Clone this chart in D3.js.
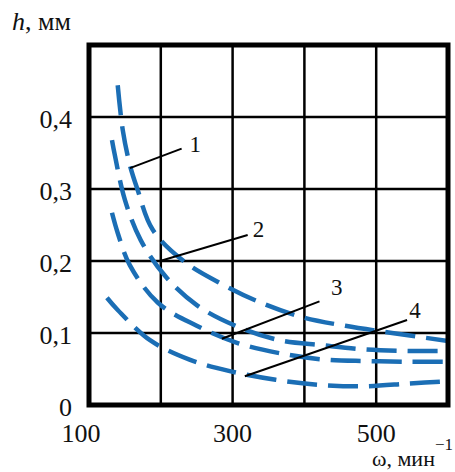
<!DOCTYPE html>
<html>
<head>
<meta charset="utf-8">
<script src="https://d3js.org/d3.v7.min.js"></script>
<style>
body{margin:0;background:#fff;}
svg text{font-family:'Liberation Serif','Times New Roman',Tinos,'DejaVu Serif',serif;fill:#111;}
</style>
</head>
<body>
<script>
width = 455;
height = 472;

// частота вращения, мин^-1
var curve1 = [[140,0.444],[147,0.382],[157,0.333],[167,0.301],[189,0.243],[233,0.199],[285,0.168],[335,0.144],[397,0.122],[457,0.110],[522,0.100],[600,0.089]];
var curve2 = [[132,0.368],[136,0.347],[150,0.285],[172,0.229],[207,0.178],[251,0.138],[304,0.110],[365,0.090],[425,0.083],[486,0.077],[547,0.075],[600,0.075]];
var curve3 = [[132,0.267],[140,0.239],[157,0.194],[196,0.142],[250,0.110],[307,0.086],[365,0.072],[428,0.063],[488,0.061],[547,0.060],[600,0.060]];
var curve4 = [[125,0.149],[140,0.132],[185,0.090],[240,0.063],[296,0.047],[360,0.035],[421,0.028],[483,0.026],[547,0.030],[600,0.033]];

var xTicks = [100,200,300,400,500,600];
var xLabels = [100,300,500];
var yTicks = [0,0.1,0.2,0.3,0.4,0.5];
var yLabels = [0,0.1,0.2,0.3,0.4];

// выноски: от кривой к номеру
var leaders = [
	{name:"1", from:[157,0.329], to:[229,0.356], label:[240,0.351]},
	{name:"2", from:[199,0.200], to:[321,0.236], label:[328,0.233]},
	{name:"3", from:[285,0.092], to:[421,0.144], label:[437,0.153]},
	{name:"4", from:[317,0.040], to:[543,0.118], label:[546,0.121]}
];

var padding = {top:45,right:7,bottom:67,left:89};
var serif = "'Liberation Serif','Times New Roman',Tinos,'DejaVu Serif',serif";

svg = d3.select("body")
.append("svg")
.attr("width",width)
.attr("height",height)
.attr("font-family",serif)

var xScale = d3.scaleLinear()
.domain([100,600])
.range([padding.left,width - padding.right]);

var yScale = d3.scaleLinear()
.domain([0,0.5])
.range([height - padding.bottom,padding.top]);

var fmt = function(d){ return d === 0 ? "0" : d3.format(".1f")(d).replace(".",","); };

// сетка
svg.append("g")
.selectAll("line")
.data(xTicks)
.enter()
.append("line")
.attr("x1",function(d){return xScale(d);})
.attr("x2",function(d){return xScale(d);})
.attr("y1",yScale(0))
.attr("y2",yScale(0.5))
.attr("stroke","#000")
.attr("stroke-width",2.5);

svg.append("g")
.selectAll("line")
.data(yTicks)
.enter()
.append("line")
.attr("x1",xScale(100))
.attr("x2",xScale(600))
.attr("y1",function(d){return yScale(d);})
.attr("y2",function(d){return yScale(d);})
.attr("stroke","#000")
.attr("stroke-width",2.5);

svg.append("defs")
.append("clipPath")
.attr("id","plot")
.append("rect")
.attr("x",xScale(100))
.attr("y",yScale(0.5))
.attr("width",xScale(600) - xScale(100))
.attr("height",yScale(0) - yScale(0.5));

var linePath = d3.line()
.x(function(d){ return xScale(d[0]); })
.y(function(d){ return yScale(d[1]); })
.curve(d3.curveCatmullRom);

svg.append("g")
.attr("clip-path","url(#plot)")
.selectAll("path")
.data([curve1,curve2,curve3,curve4])
.enter()
.append("path")
.attr("d",linePath)
.attr("fill","none")
.attr("stroke","#1b6eb5")
.attr("stroke-width",4.5)
.attr("stroke-dasharray","30,11");

// рамка
svg.append("rect")
.attr("x",xScale(100))
.attr("y",yScale(0.5))
.attr("width",xScale(600) - xScale(100))
.attr("height",yScale(0) - yScale(0.5))
.attr("fill","none")
.attr("stroke","#000")
.attr("stroke-width",5);

// выноски
svg.append("g")
.selectAll("line")
.data(leaders)
.enter()
.append("line")
.attr("x1",function(d){return xScale(d.from[0]);})
.attr("y1",function(d){return yScale(d.from[1]);})
.attr("x2",function(d){return xScale(d.to[0]);})
.attr("y2",function(d){return yScale(d.to[1]);})
.attr("stroke","#000")
.attr("stroke-width",2);

svg.append("g")
.selectAll("text")
.data(leaders)
.enter()
.append("text")
.attr("x",function(d){return xScale(d.label[0]);})
.attr("y",function(d){return yScale(d.label[1]);})
.attr("font-size",23)
.text(function(d){return d.name;});

// подписи осей
svg.append("g")
.selectAll("text")
.data(yLabels)
.enter()
.append("text")
.attr("x",xScale(100) - 17)
.attr("y",function(d){return yScale(d) + 11;})
.attr("text-anchor","end")
.attr("font-size",26)
.text(fmt);

svg.append("g")
.selectAll("text")
.data(xLabels)
.enter()
.append("text")
.attr("x",function(d,i){return xScale(d) - (i === 0 ? 8 : 0);})
.attr("y",yScale(0) + 37)
.attr("text-anchor","middle")
.attr("font-size",26)
.text(function(d){return d;});

var hTitle = svg.append("text")
.attr("x",12)
.attr("y",30)
.attr("font-size",26);
hTitle.append("tspan").attr("font-style","italic").text("h");
hTitle.append("tspan").text(", мм");

var wTitle = svg.append("text")
.attr("x",width - 2)
.attr("y",466)
.attr("text-anchor","end")
.attr("font-size",22);
wTitle.append("tspan").text("ω, мин");
wTitle.append("tspan").attr("dy",-16).attr("font-size",17).text("−1");
</script>
</body>
</html>
